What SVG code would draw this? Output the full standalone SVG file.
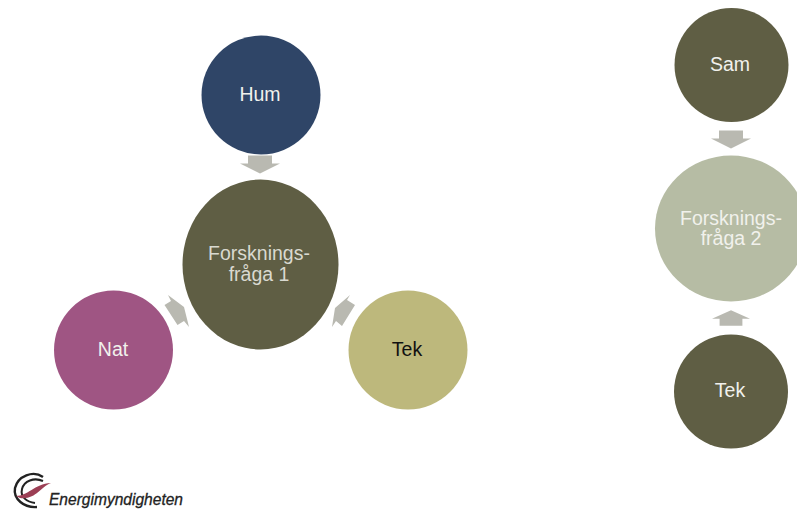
<svg xmlns="http://www.w3.org/2000/svg" width="797" height="509" viewBox="0 0 797 509">
<style>
text{font-family:"Liberation Sans",Arial,sans-serif;font-size:19.500px;text-anchor:middle;fill:#f1f1ec}
.a{fill:#b9b9b1}
</style>
<defs><path id="arr" d="M-12,-9H12V-1H20L0,9L-20,-1H-12Z"/></defs>
<rect width="797" height="509" fill="#fff"/>
<g id="connectors">
<use href="#arr" class="a" x="260" y="164.500"/>
<use href="#arr" class="a" x="731" y="139.500"/>
<use href="#arr" class="a" transform="translate(731,318) rotate(180) scale(0.95,0.85)"/>
<path class="a" d="M168,295L171,301L164.500,305L177.500,325L184,321L189,327L184,307Z"/>
<path class="a" d="M350,295L347,300L355,305L342,326L336,321L332,327L335,308Z"/>
</g>
<g id="hum"><circle cx="261" cy="95" r="59.500" fill="#2f4567"/><text x="260" y="100.500">Hum</text></g>
<g id="q1"><ellipse cx="260.500" cy="264.500" rx="78" ry="85" fill="#5f5e44"/><text x="259" y="260" style="fill:#d9d9d0">Forsknings-</text><text x="259" y="281" style="fill:#d9d9d0">fråga 1</text></g>
<g id="nat"><circle cx="113.500" cy="350" r="59.500" fill="#9f5583"/><text x="113" y="355.500">Nat</text></g>
<g id="tek1"><circle cx="408" cy="350" r="59.500" fill="#bdb87c"/><text x="407" y="355.500" style="fill:#111">Tek</text></g>
<g id="sam"><circle cx="731.500" cy="65" r="57" fill="#5f5e44"/><text x="730" y="70.500">Sam</text></g>
<g id="q2"><ellipse cx="731" cy="228.500" rx="76" ry="73" fill="#b6bca4"/><text x="731" y="225">Forsknings-</text><text x="731" y="245">fråga 2</text></g>
<g id="tek2"><circle cx="731" cy="391.500" r="57" fill="#5f5e44"/><text x="730" y="397">Tek</text></g>
<g id="logo" fill="none">
<path d="M43,477C33,470 18,476 15,488C13,499 24,508 37,507" stroke="#222" stroke-width="2.400"/>
<path d="M43,481C34,477 24,481 22,489C20,497 27,502 35,503" stroke="#222" stroke-width="2"/>
<path d="M16,496C28,496 34,484 51,483C40,487 36,500 20,498Z" fill="#9c3f55"/>
<text x="116" y="505" style="font-size:16px;font-style:italic;fill:#222;stroke:#222;stroke-width:.3" textLength="134" lengthAdjust="spacingAndGlyphs">Energimyndigheten</text>
</g>
</svg>
